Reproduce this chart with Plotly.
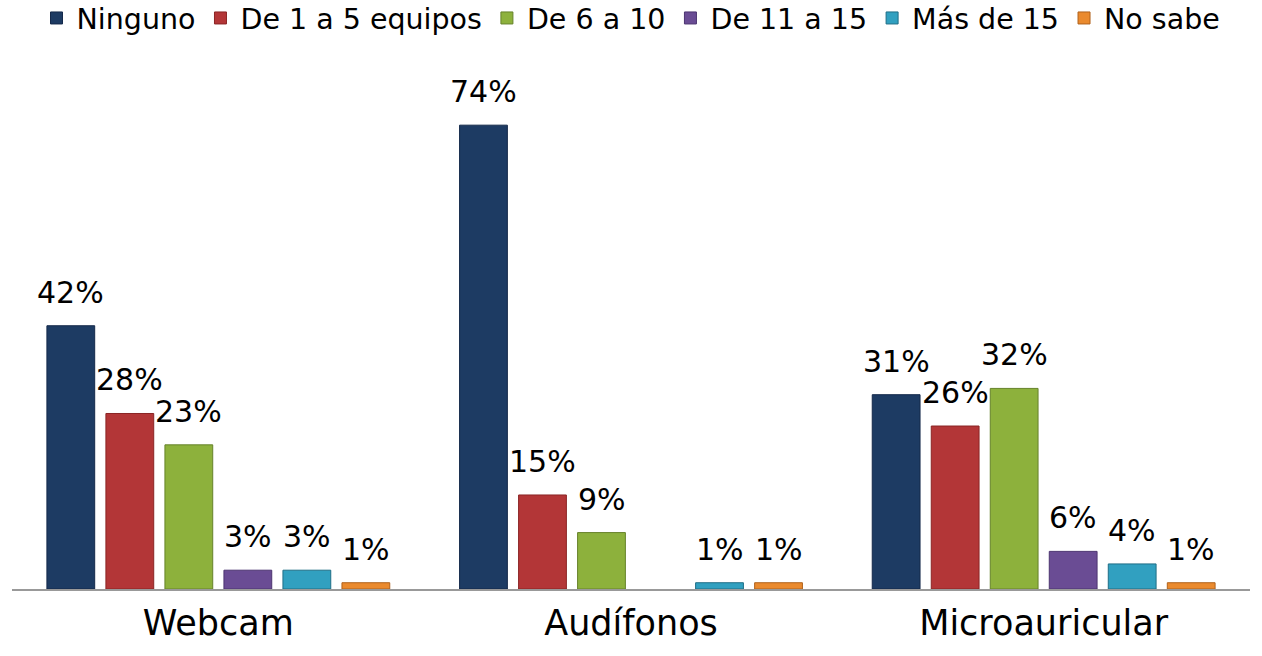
import plotly.graph_objects as go

categories = ["Webcam", "Audífonos", "Microauricular"]
series_names = ["Ninguno", "De 1 a 5 equipos", "De 6 a 10", "De 11 a 15", "Más de 15", "No sabe"]
ninguno = [42, 74, 31]
de_1_a_5 = [28, 15, 26]
de_6_a_10 = [23, 9, 32]
de_11_a_15 = [3, 0, 6]
mas_de_15 = [3, 1, 4]
no_sabe = [1, 1, 1]
series_values = [ninguno, de_1_a_5, de_6_a_10, de_11_a_15, mas_de_15, no_sabe]
colors = ["#1d3b63", "#b33637", "#8db13c", "#6a4c94", "#31a0c0", "#ea8a2e"]
edge_colors = ["#14294a", "#8a2424", "#66822a", "#4c3470", "#1f6e86", "#b0621c"]

fig = go.Figure()
for name, vals, col, ec in zip(series_names, series_values, colors, edge_colors):
    fig.add_trace(go.Bar(
        name=name, x=categories, y=[v if v > 0 else None for v in vals],
        marker=dict(color=col, line=dict(color=ec, width=1)),
    ))

n = len(series_names)
slot_px = 59
annotations = []
for i, vals in enumerate(series_values):
    for cat, v in zip(categories, vals):
        if v and v > 0:
            annotations.append(dict(
                x=cat, y=v, xref="x", yref="y", text=f"{v}%", showarrow=False,
                xanchor="center", yanchor="bottom", xshift=(i - (n - 1) / 2) * slot_px,
                yshift=14, font=dict(family="DejaVu Sans", size=30, color="#000000"),
            ))

fig.update_layout(
    width=1262, height=656,
    margin=dict(l=12, r=12, t=70, b=67, autoexpand=False),
    paper_bgcolor="white", plot_bgcolor="white",
    barmode="group", bargap=0.142, bargroupgap=0.19,
    font=dict(family="DejaVu Sans", color="#000000"),
    showlegend=True,
    legend=dict(orientation="h", x=0.5, xanchor="center", y=1.1485, yanchor="top",
                font=dict(size=28.5, family="DejaVu Sans"), itemwidth=30,
                bgcolor="rgba(0,0,0,0)"),
    annotations=annotations,
    xaxis=dict(showline=True, linecolor="#999999", linewidth=2, showgrid=False,
               ticks="", tickfont=dict(size=35, family="DejaVu Sans"), ticklabelstandoff=2),
    yaxis=dict(range=[0, 82.8], visible=False, showgrid=False, zeroline=False),
)

fig.write_html("out.html", config={"displayModeBar": False},
               post_script="document.body.style.margin='0px';document.body.style.overflow='hidden';")
